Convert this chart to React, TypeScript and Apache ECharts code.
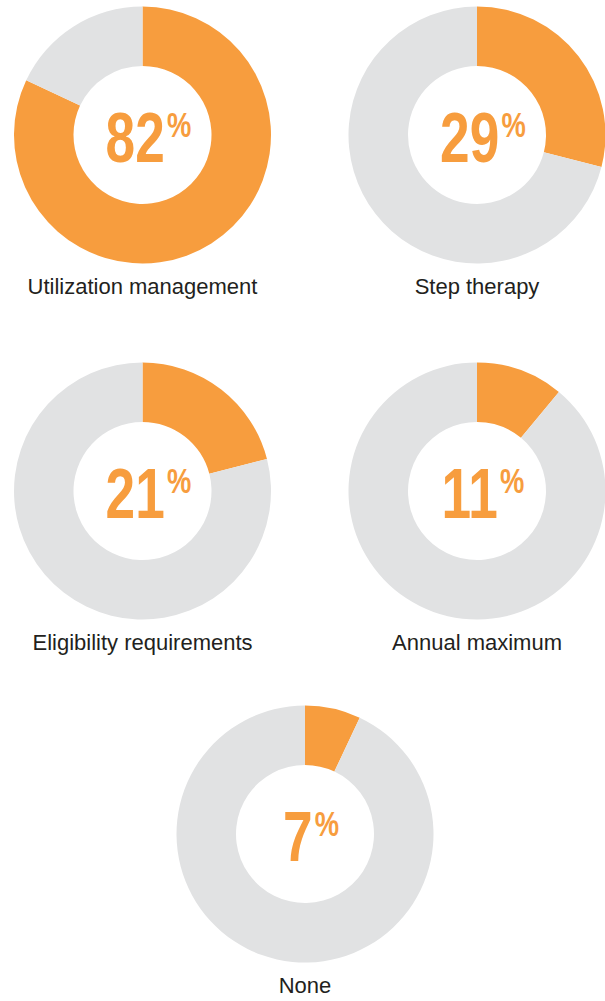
import React, { useEffect, useRef } from "react";
import * as echarts from "echarts";

const categories = [
  "Utilization management",
  "Step therapy",
  "Eligibility requirements",
  "Annual maximum",
  "None",
];
const values = [82, 29, 21, 11, 7];
const total = 100;

const ORANGE = "#F79D3E";
const GREY = "#E1E2E3";
const TEXT = "#231F20";

// layout (pixels)
const centers: [number, number][] = [
  [142.5, 135],
  [477, 135],
  [142.5, 491],
  [477, 491],
  [305, 834],
];
const R_OUT = 128.5;
const R_IN = 69;
const NAME_DY = 151;
const NUM_DX = 6;
const NUM_DY = 3;
const CONDENSE = 0.76;

export default function App() {
  const ref = useRef<HTMLDivElement>(null);
  useEffect(() => {
    if (!ref.current) return;
    const chart = echarts.init(ref.current, undefined, { renderer: "svg" });
    const series = categories.map((name, i) => ({
      type: "pie" as const,
      name,
      center: centers[i],
      radius: [R_IN, R_OUT],
      startAngle: 90,
      clockwise: true,
      silent: true,
      animation: false,
      emphasis: { disabled: true },
      label: { show: false },
      labelLine: { show: false },
      data: [
        { value: values[i], name, itemStyle: { color: ORANGE } },
        { value: total - values[i], name: name + " (rest)", itemStyle: { color: GREY } },
      ],
    }));
    const names = categories.map((name, i) => ({
      type: "text" as const,
      x: centers[i][0],
      y: centers[i][1] + NAME_DY,
      silent: true,
      style: {
        text: name,
        fontSize: 22,
        fontFamily: "'Liberation Sans', Arial, sans-serif",
        fill: TEXT,
        textAlign: "center",
        textVerticalAlign: "middle",
      },
    }));
    const numbers = values.map((v, i) => ({
      type: "text" as const,
      x: centers[i][0] + NUM_DX,
      y: centers[i][1] + NUM_DY,
      scaleX: CONDENSE,
      silent: true,
      style: {
        text: `{n|${v}}{p|%}`,
        textAlign: "center",
        textVerticalAlign: "middle",
        rich: {
          n: {
            fontSize: 70,
            fontWeight: "bold",
            fontFamily: "'Liberation Sans', Arial, sans-serif",
            fill: ORANGE,
            lineHeight: 70,
          },
          p: {
            fontSize: 36,
            fontWeight: "bold",
            fontFamily: "'Liberation Sans', Arial, sans-serif",
            fill: ORANGE,
            verticalAlign: "top",
            lineHeight: 36,
            padding: [4, 0, 0, 3],
          },
        },
      },
    }));
    chart.setOption({
      animation: false,
      backgroundColor: "#ffffff",
      series,
      graphic: [...names, ...numbers],
    });
    return () => chart.dispose();
  }, []);
  return (
    <div
      ref={ref}
      style={{ position: "fixed", left: 0, top: 0, width: 605, height: 1001 }}
    />
  );
}
